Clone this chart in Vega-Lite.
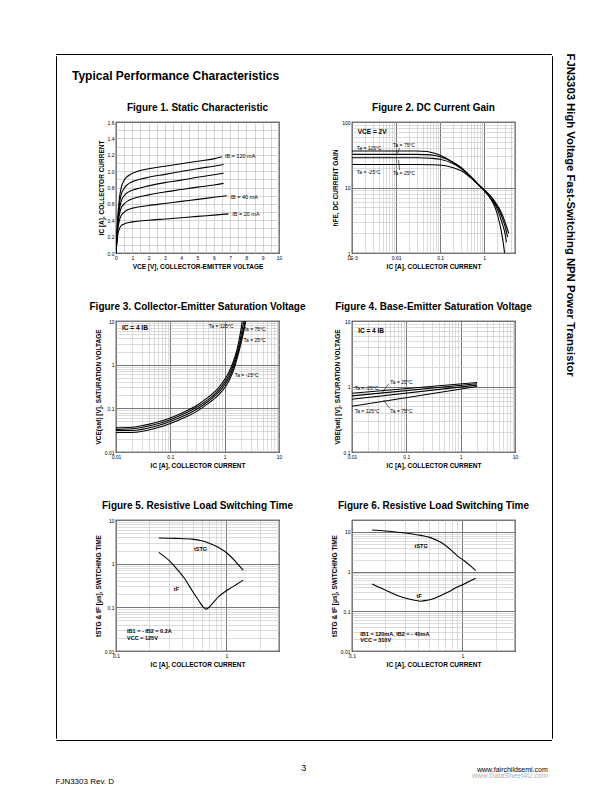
{
 "$schema": "https://vega.github.io/schema/vega-lite/v6.json",
 "padding": {"left": 55, "top": 53, "right": 0, "bottom": 0},
 "background": "white",
 "config": {
  "font": "Liberation Sans",
  "view": {"stroke": "black", "strokeWidth": 1.2},
  "axis": {"labelFont": "Liberation Sans", "labelFontSize": 5, "labelColor": "black", "titleFont": "Liberation Sans", "titleFontSize": 6.5, "titleFontWeight": "bold", "titleColor": "black", "domain": false, "ticks": false, "labelPadding": 2, "titlePadding": 3, "labelOverlap": false, "labelFlush": false, "labelBound": false, "gridColor": "#b8b8b8", "gridWidth": 0.6},
  "title": {"font": "Liberation Sans", "fontSize": 10, "fontWeight": "bold", "color": "black", "offset": 7},
  "text": {"font": "Liberation Sans", "fontSize": 5.5, "color": "black"},
  "line": {"color": "black", "strokeWidth": 1},
  "rule": {"color": "black", "strokeWidth": 0.6}
 },
 "datasets": {
  "f1": [
   {"s":"120","x":0,"y":0},{"s":"120","x":0.05,"y":0.2},{"s":"120","x":0.1,"y":0.4},{"s":"120","x":0.2,"y":0.65},{"s":"120","x":0.3,"y":0.78},{"s":"120","x":0.5,"y":0.89},{"s":"120","x":0.8,"y":0.95},{"s":"120","x":1.2,"y":0.99},{"s":"120","x":2,"y":1.03},{"s":"120","x":3,"y":1.06},{"s":"120","x":4,"y":1.09},{"s":"120","x":5,"y":1.12},{"s":"120","x":6,"y":1.15},{"s":"120","x":6.5,"y":1.175},
   {"s":"100","x":0,"y":0},{"s":"100","x":0.05,"y":0.19},{"s":"100","x":0.1,"y":0.37},{"s":"100","x":0.2,"y":0.58},{"s":"100","x":0.3,"y":0.7},{"s":"100","x":0.5,"y":0.79},{"s":"100","x":0.8,"y":0.85},{"s":"100","x":1.2,"y":0.885},{"s":"100","x":2,"y":0.925},{"s":"100","x":3,"y":0.96},{"s":"100","x":4,"y":0.995},{"s":"100","x":5,"y":1.03},{"s":"100","x":6,"y":1.06},{"s":"100","x":6.6,"y":1.08},
   {"s":"80","x":0,"y":0},{"s":"80","x":0.05,"y":0.18},{"s":"80","x":0.1,"y":0.34},{"s":"80","x":0.2,"y":0.52},{"s":"80","x":0.3,"y":0.62},{"s":"80","x":0.5,"y":0.7},{"s":"80","x":0.8,"y":0.75},{"s":"80","x":1.2,"y":0.78},{"s":"80","x":2,"y":0.82},{"s":"80","x":3,"y":0.86},{"s":"80","x":4,"y":0.89},{"s":"80","x":5,"y":0.925},{"s":"80","x":6,"y":0.955},{"s":"80","x":6.6,"y":0.975},
   {"s":"60","x":0,"y":0},{"s":"60","x":0.05,"y":0.17},{"s":"60","x":0.1,"y":0.31},{"s":"60","x":0.2,"y":0.46},{"s":"60","x":0.3,"y":0.54},{"s":"60","x":0.5,"y":0.6},{"s":"60","x":0.8,"y":0.645},{"s":"60","x":1.2,"y":0.675},{"s":"60","x":2,"y":0.71},{"s":"60","x":3,"y":0.745},{"s":"60","x":4,"y":0.775},{"s":"60","x":5,"y":0.805},{"s":"60","x":6,"y":0.83},{"s":"60","x":6.6,"y":0.85},
   {"s":"40","x":0,"y":0},{"s":"40","x":0.05,"y":0.15},{"s":"40","x":0.1,"y":0.27},{"s":"40","x":0.2,"y":0.39},{"s":"40","x":0.3,"y":0.45},{"s":"40","x":0.5,"y":0.5},{"s":"40","x":0.8,"y":0.535},{"s":"40","x":1.2,"y":0.555},{"s":"40","x":2,"y":0.58},{"s":"40","x":3,"y":0.605},{"s":"40","x":4,"y":0.63},{"s":"40","x":5,"y":0.655},{"s":"40","x":6,"y":0.68},{"s":"40","x":6.8,"y":0.7},
   {"s":"20","x":0,"y":0},{"s":"20","x":0.05,"y":0.12},{"s":"20","x":0.1,"y":0.21},{"s":"20","x":0.2,"y":0.29},{"s":"20","x":0.3,"y":0.33},{"s":"20","x":0.5,"y":0.355},{"s":"20","x":0.8,"y":0.372},{"s":"20","x":1.2,"y":0.385},{"s":"20","x":2,"y":0.4},{"s":"20","x":3,"y":0.415},{"s":"20","x":4,"y":0.43},{"s":"20","x":5,"y":0.447},{"s":"20","x":6,"y":0.463},{"s":"20","x":6.9,"y":0.478}
  ],
  "f1t": [
   {"t":"IB = 120 mA","x":6.68,"y":1.187},
   {"t":"IB = 40 mA","x":7.03,"y":0.69},
   {"t":"IB = 20 mA","x":7.13,"y":0.474}
  ],
  "f2": [
   {"s":"125","x":0.001,"y":36},{"s":"125","x":0.01,"y":36},{"s":"125","x":0.03,"y":36},{"s":"125","x":0.05,"y":35.5},{"s":"125","x":0.1,"y":31},{"s":"125","x":0.2,"y":24},{"s":"125","x":0.3,"y":20},{"s":"125","x":0.5,"y":14.5},{"s":"125","x":0.8,"y":10.5},{"s":"125","x":1,"y":9},{"s":"125","x":1.5,"y":6.2},{"s":"125","x":1.8,"y":4.8},{"s":"125","x":2.2,"y":3.0},{"s":"125","x":2.6,"y":1.7},{"s":"125","x":2.9,"y":1.0},
   {"s":"75","x":0.001,"y":32},{"s":"75","x":0.01,"y":32},{"s":"75","x":0.03,"y":32},{"s":"75","x":0.06,"y":31.5},{"s":"75","x":0.1,"y":29.5},{"s":"75","x":0.2,"y":24},{"s":"75","x":0.3,"y":20},{"s":"75","x":0.5,"y":14.5},{"s":"75","x":0.8,"y":10.5},{"s":"75","x":1,"y":9},{"s":"75","x":1.5,"y":6.5},{"s":"75","x":2,"y":4.6},{"s":"75","x":2.5,"y":3.0},{"s":"75","x":3.0,"y":1.9},{"s":"75","x":3.2,"y":1.45},
   {"s":"25","x":0.001,"y":28.5},{"s":"25","x":0.01,"y":28.5},{"s":"25","x":0.03,"y":28.5},{"s":"25","x":0.06,"y":28},{"s":"25","x":0.1,"y":27},{"s":"25","x":0.2,"y":23},{"s":"25","x":0.3,"y":19.5},{"s":"25","x":0.5,"y":14.5},{"s":"25","x":0.8,"y":10.5},{"s":"25","x":1,"y":9.2},{"s":"25","x":1.5,"y":6.8},{"s":"25","x":2,"y":5.0},{"s":"25","x":2.5,"y":3.6},{"s":"25","x":3.0,"y":2.5},{"s":"25","x":3.4,"y":1.75},
   {"s":"-25","x":0.001,"y":22.5},{"s":"-25","x":0.01,"y":22.5},{"s":"-25","x":0.03,"y":22.5},{"s":"-25","x":0.06,"y":22.3},{"s":"-25","x":0.1,"y":22},{"s":"-25","x":0.2,"y":20},{"s":"-25","x":0.3,"y":18},{"s":"-25","x":0.5,"y":14},{"s":"-25","x":0.8,"y":10.5},{"s":"-25","x":1,"y":9.3},{"s":"-25","x":1.5,"y":7.0},{"s":"-25","x":2,"y":5.3},{"s":"-25","x":2.5,"y":4.0},{"s":"-25","x":3.0,"y":2.9},{"s":"-25","x":3.6,"y":2.0}
  ],
  "f2t": [
   {"t":"Ta = 125°C","x":0.00128,"y":40.7},
   {"t":"Ta = 75°C","x":0.00848,"y":44.3},
   {"t":"Ta = -25°C","x":0.00128,"y":17.0},
   {"t":"Ta = 25°C","x":0.00848,"y":16.4}
  ],
  "f2r": [
   {"x":0.01205,"y":40.3,"x2":0.01064,"y2":33},
   {"x":0.01205,"y":18.5,"x2":0.0114,"y2":26.2}
  ],
  "f2v": [{"t":"VCE = 2V","x":0.00135,"y":70.5}],
  "f3": [
   {"s":"125","x":0.01,"y":0.036},{"s":"125","x":0.02,"y":0.037},{"s":"125","x":0.05,"y":0.046},{"s":"125","x":0.1,"y":0.06},{"s":"125","x":0.2,"y":0.088},{"s":"125","x":0.3,"y":0.115},{"s":"125","x":0.5,"y":0.18},{"s":"125","x":0.7,"y":0.26},{"s":"125","x":0.9,"y":0.38},{"s":"125","x":1.1,"y":0.55},{"s":"125","x":1.3,"y":0.85},{"s":"125","x":1.5,"y":1.35},{"s":"125","x":1.7,"y":2.3},{"s":"125","x":1.85,"y":3.8},{"s":"125","x":2.0,"y":6.5},{"s":"125","x":2.1,"y":10},
   {"s":"75","x":0.01,"y":0.033},{"s":"75","x":0.02,"y":0.034},{"s":"75","x":0.05,"y":0.042},{"s":"75","x":0.1,"y":0.055},{"s":"75","x":0.2,"y":0.08},{"s":"75","x":0.3,"y":0.104},{"s":"75","x":0.5,"y":0.16},{"s":"75","x":0.7,"y":0.23},{"s":"75","x":0.9,"y":0.33},{"s":"75","x":1.1,"y":0.47},{"s":"75","x":1.3,"y":0.72},{"s":"75","x":1.5,"y":1.15},{"s":"75","x":1.7,"y":1.95},{"s":"75","x":1.9,"y":3.3},{"s":"75","x":2.05,"y":5.5},{"s":"75","x":2.2,"y":8.5},{"s":"75","x":2.28,"y":10},
   {"s":"25","x":0.01,"y":0.031},{"s":"25","x":0.02,"y":0.031},{"s":"25","x":0.05,"y":0.038},{"s":"25","x":0.1,"y":0.05},{"s":"25","x":0.2,"y":0.072},{"s":"25","x":0.3,"y":0.094},{"s":"25","x":0.5,"y":0.145},{"s":"25","x":0.7,"y":0.205},{"s":"25","x":0.9,"y":0.29},{"s":"25","x":1.1,"y":0.41},{"s":"25","x":1.3,"y":0.62},{"s":"25","x":1.5,"y":0.98},{"s":"25","x":1.7,"y":1.65},{"s":"25","x":1.9,"y":2.8},{"s":"25","x":2.1,"y":4.8},{"s":"25","x":2.3,"y":8},{"s":"25","x":2.38,"y":10},
   {"s":"-25","x":0.01,"y":0.028},{"s":"-25","x":0.02,"y":0.028},{"s":"-25","x":0.05,"y":0.034},{"s":"-25","x":0.1,"y":0.045},{"s":"-25","x":0.2,"y":0.065},{"s":"-25","x":0.3,"y":0.084},{"s":"-25","x":0.5,"y":0.13},{"s":"-25","x":0.7,"y":0.18},{"s":"-25","x":0.9,"y":0.25},{"s":"-25","x":1.1,"y":0.35},{"s":"-25","x":1.3,"y":0.53},{"s":"-25","x":1.5,"y":0.83},{"s":"-25","x":1.7,"y":1.4},{"s":"-25","x":1.9,"y":2.4},{"s":"-25","x":2.1,"y":4.0},{"s":"-25","x":2.3,"y":6.8},{"s":"-25","x":2.45,"y":10}
  ],
  "f3t": [
   {"t":"Ta = 125°C","x":0.51,"y":7.7},
   {"t":"Ta = 75°C","x":2.22,"y":6.44},
   {"t":"Ta = 25°C","x":2.22,"y":3.67},
   {"t":"Ta = -25°C","x":1.53,"y":0.576}
  ],
  "f3v": [{"t":"IC = 4 IB","x":0.0129,"y":6.8}],
  "f4": [
   {"s":"-25","x":0.01,"y":0.79},{"s":"-25","x":2,"y":1.15},
   {"s":"25","x":0.01,"y":0.72},{"s":"25","x":2,"y":1.1},
   {"s":"75","x":0.01,"y":0.64},{"s":"75","x":2,"y":1.05},
   {"s":"125","x":0.01,"y":0.5},{"s":"125","x":2,"y":1.0}
  ],
  "f4t": [
   {"t":"Ta = -25°C","x":0.0112,"y":0.943},
   {"t":"Ta = 25°C","x":0.0508,"y":1.19},
   {"t":"Ta = 75°C","x":0.0508,"y":0.427},
   {"t":"Ta = 125°C","x":0.0112,"y":0.427}
  ],
  "f4r": [
   {"x":0.0473,"y":1.10,"x2":0.0355,"y2":0.79},
   {"x":0.0495,"y":0.464,"x2":0.038,"y2":0.623}
  ],
  "f4v": [{"t":"IC = 4 IB","x":0.013,"y":7.0}],
  "f5": [
   {"s":"tstg","x":0.244,"y":3.86},{"s":"tstg","x":0.35,"y":3.8},{"s":"tstg","x":0.49,"y":3.65},{"s":"tstg","x":0.6,"y":3.35},{"s":"tstg","x":0.7,"y":2.95},{"s":"tstg","x":0.85,"y":2.35},{"s":"tstg","x":1.0,"y":1.8},{"s":"tstg","x":1.2,"y":1.15},{"s":"tstg","x":1.42,"y":0.71},
   {"s":"tf","x":0.244,"y":1.81},{"s":"tf","x":0.3,"y":1.2},{"s":"tf","x":0.346,"y":0.82},{"s":"tf","x":0.42,"y":0.45},{"s":"tf","x":0.49,"y":0.24},{"s":"tf","x":0.565,"y":0.14},{"s":"tf","x":0.62,"y":0.1},{"s":"tf","x":0.66,"y":0.091},{"s":"tf","x":0.72,"y":0.11},{"s":"tf","x":0.86,"y":0.18},{"s":"tf","x":1.0,"y":0.24},{"s":"tf","x":1.13,"y":0.29},{"s":"tf","x":1.42,"y":0.42}
  ],
  "f5t": [
   {"t":"tSTG","x":0.508,"y":2.16},
   {"t":"tF","x":0.334,"y":0.26},
   {"t":"IB1 = - IB2 = 0.2A","x":0.126,"y":0.0288},
   {"t":"VCC = 125V","x":0.126,"y":0.0203}
  ],
  "f6": [
   {"s":"tstg","x":0.152,"y":11.2},{"s":"tstg","x":0.2,"y":10.6},{"s":"tstg","x":0.316,"y":9.3},{"s":"tstg","x":0.42,"y":8.2},{"s":"tstg","x":0.515,"y":7.2},{"s":"tstg","x":0.6,"y":6.0},{"s":"tstg","x":0.68,"y":4.9},{"s":"tstg","x":0.8,"y":3.4},{"s":"tstg","x":0.9,"y":2.5},{"s":"tstg","x":1.04,"y":1.88},{"s":"tstg","x":1.2,"y":1.35},{"s":"tstg","x":1.32,"y":1.06},
   {"s":"tf","x":0.152,"y":0.49},{"s":"tf","x":0.18,"y":0.39},{"s":"tf","x":0.223,"y":0.3},{"s":"tf","x":0.27,"y":0.24},{"s":"tf","x":0.316,"y":0.21},{"s":"tf","x":0.37,"y":0.19},{"s":"tf","x":0.418,"y":0.18},{"s":"tf","x":0.48,"y":0.19},{"s":"tf","x":0.553,"y":0.21},{"s":"tf","x":0.66,"y":0.26},{"s":"tf","x":0.784,"y":0.33},{"s":"tf","x":0.9,"y":0.41},{"s":"tf","x":1.04,"y":0.49},{"s":"tf","x":1.32,"y":0.68}
  ],
  "f6t": [
   {"t":"tSTG","x":0.369,"y":4.47},
   {"t":"tF","x":0.385,"y":0.242},
   {"t":"IB1 = 120mA, IB2 = - 40mA","x":0.119,"y":0.0261},
   {"t":"VCC = 310V","x":0.119,"y":0.0185}
  ]
 },
 "title": {"text": "FJN3303 Rev. D", "orient": "bottom", "anchor": "start", "fontSize": 8, "fontWeight": "normal", "offset": -1},
 "vconcat": [{
  "title": {"text": "www.fairchildsemi.com", "subtitle": "www.DataSheet4U.com", "orient": "bottom", "anchor": "end", "fontSize": 7, "fontWeight": "normal", "subtitleFont": "Liberation Sans", "subtitleFontSize": 7.2, "subtitleColor": "#b0b0b0", "subtitlePadding": -1, "offset": -7, "dx": -28},
  "vconcat": [{
   "title": {"text": "3", "orient": "bottom", "anchor": "middle", "fontSize": 9, "fontWeight": "normal", "offset": 23, "dx": -12},
   "vconcat": [{
    "title": {"text": "FJN3303  High Voltage Fast-Switching NPN Power Transistor", "orient": "right", "anchor": "start", "offset": 12, "fontSize": 11.3, "fontWeight": "bold"},
    "spacing": 0,
    "vconcat": [
     {"width": 495, "height": 0.01, "view": {"stroke": "black", "strokeWidth": 1}, "data": {"values": []}, "mark": {"type": "text"}, "encoding": {"text": {"value": ""}}},
     {
      "spacing": 15,
      "hconcat": [
       {"width": 0.01, "height": 682, "view": {"stroke": "black", "strokeWidth": 1}, "data": {"values": []}, "mark": {"type": "text"}, "encoding": {"text": {"value": ""}}},
       {
        "spacing": 18,
        "hconcat": [
         {
          "spacing": 20,
          "vconcat": [
           {
            "width": 10, "height": 11,
            "view": {"stroke": null},
            "title": {"text": "Typical Performance Characteristics", "orient": "bottom", "anchor": "start", "frame": "group", "offset": 4, "dx": -44, "fontSize": 12},
            "data": {"values": []},
            "mark": {"type": "text"},
            "encoding": {"text": {"value": ""}}
           },
           {
            "spacing": 30,
            "vconcat": [
             {
              "spacing": 73, "bounds": "flush",
              "hconcat": [
               {
                "width": 163, "height": 131,
                "title": {"text": "Figure 1. Static Characteristic"},
                "encoding": {
                 "x": {"field": "x", "type": "quantitative", "scale": {"domain": [0, 10], "nice": false, "zero": false},
                  "axis": {"title": "VCE [V], COLLECTOR-EMITTER VOLTAGE", "values": [0,0.5,1,1.5,2,2.5,3,3.5,4,4.5,5,5.5,6,6.5,7,7.5,8,8.5,9,9.5,10], "labelExpr": "datum.value % 1 == 0 ? format(datum.value, 'd') : ''"}},
                 "y": {"field": "y", "type": "quantitative", "scale": {"domain": [0, 1.6], "nice": false},
                  "axis": {"title": "IC [A], COLLECTOR CURRENT", "values": [0,0.1,0.2,0.3,0.4,0.5,0.6,0.7,0.8,0.9,1,1.1,1.2,1.3,1.4,1.5,1.6], "labelExpr": "round(datum.value*10) % 2 == 0 ? format(datum.value, '.1f') : ''"}}
                },
                "layer": [
                 {"data": {"name": "f1"}, "mark": {"type": "line", "interpolate": "monotone", "clip": true, "strokeWidth": 1.1}, "encoding": {"detail": {"field": "s", "type": "nominal"}}},
                 {"data": {"name": "f1t"}, "mark": {"type": "text", "align": "left", "baseline": "middle"}, "encoding": {"text": {"field": "t", "type": "nominal"}}}
                ]
               },
               {
                "width": 163, "height": 131,
                "title": {"text": "Figure 2. DC Current Gain"},
                "encoding": {
                 "x": {"field": "x", "type": "quantitative", "scale": {"type": "log", "domain": [0.001, 5], "nice": false},
                  "axis": {"title": "IC [A], COLLECTOR CURRENT", "values": [0.001,0.002,0.003,0.004,0.005,0.006,0.007,0.008,0.009,0.01,0.02,0.03,0.04,0.05,0.06,0.07,0.08,0.09,0.1,0.2,0.3,0.4,0.5,0.6,0.7,0.8,0.9,1,2,3,4,5],
                   "labelExpr": "datum.value == 0.001 ? '1E-3' : (indexof([0.01,0.1,1], datum.value) >= 0 ? format(datum.value, '~g') : '')",
                   "gridColor": {"condition": {"test": "indexof([0.001,0.01,0.1,1,10,100], datum.value) >= 0", "value": "#777777"}, "value": "#c4c4c4"},
                   "gridWidth": {"condition": {"test": "indexof([0.001,0.01,0.1,1,10,100], datum.value) >= 0", "value": 1}, "value": 0.6}}},
                 "y": {"field": "y", "type": "quantitative", "scale": {"type": "log", "domain": [1, 100], "nice": false},
                  "axis": {"title": "hFE, DC CURRENT GAIN", "values": [1,2,3,4,5,6,7,8,9,10,20,30,40,50,60,70,80,90,100],
                   "labelExpr": "indexof([1,10,100], datum.value) >= 0 ? format(datum.value, '~g') : ''",
                   "gridColor": {"condition": {"test": "indexof([1,10,100], datum.value) >= 0", "value": "#777777"}, "value": "#c4c4c4"},
                   "gridWidth": {"condition": {"test": "indexof([1,10,100], datum.value) >= 0", "value": 1}, "value": 0.6}}}
                },
                "layer": [
                 {"data": {"name": "f2"}, "mark": {"type": "line", "interpolate": "monotone", "clip": true, "strokeWidth": 1.1}, "encoding": {"detail": {"field": "s", "type": "nominal"}}},
                 {"data": {"name": "f2r"}, "mark": {"type": "rule"}, "encoding": {"x2": {"field": "x2"}, "y2": {"field": "y2"}}},
                 {"data": {"name": "f2t"}, "mark": {"type": "text", "align": "left", "baseline": "middle", "fontSize": 5}, "encoding": {"text": {"field": "t", "type": "nominal"}}},
                 {"data": {"name": "f2v"}, "mark": {"type": "text", "align": "left", "baseline": "middle", "fontSize": 6.5, "fontWeight": "bold"}, "encoding": {"text": {"field": "t", "type": "nominal"}}}
                ]
               }
              ]
             },
             {
              "spacing": 73, "bounds": "flush",
              "hconcat": [
               {
                "width": 163, "height": 131,
                "title": {"text": "Figure 3. Collector-Emitter Saturation Voltage"},
                "encoding": {
                 "x": {"field": "x", "type": "quantitative", "scale": {"type": "log", "domain": [0.01, 10], "nice": false},
                  "axis": {"title": "IC [A], COLLECTOR CURRENT", "values": [0.01,0.02,0.03,0.04,0.05,0.06,0.07,0.08,0.09,0.1,0.2,0.3,0.4,0.5,0.6,0.7,0.8,0.9,1,2,3,4,5,6,7,8,9,10],
                   "labelExpr": "indexof([0.01,0.1,1,10], datum.value) >= 0 ? format(datum.value, '~g') : ''",
                   "gridColor": {"condition": {"test": "indexof([0.01,0.1,1,10], datum.value) >= 0", "value": "#777777"}, "value": "#c4c4c4"},
                   "gridWidth": {"condition": {"test": "indexof([0.01,0.1,1,10], datum.value) >= 0", "value": 1}, "value": 0.6}}},
                 "y": {"field": "y", "type": "quantitative", "scale": {"type": "log", "domain": [0.01, 10], "nice": false},
                  "axis": {"title": "VCE(sat) [V], SATURATION VOLTAGE", "values": [0.01,0.02,0.03,0.04,0.05,0.06,0.07,0.08,0.09,0.1,0.2,0.3,0.4,0.5,0.6,0.7,0.8,0.9,1,2,3,4,5,6,7,8,9,10],
                   "labelExpr": "indexof([0.01,0.1,1,10], datum.value) >= 0 ? format(datum.value, '~g') : ''",
                   "gridColor": {"condition": {"test": "indexof([0.01,0.1,1,10], datum.value) >= 0", "value": "#777777"}, "value": "#c4c4c4"},
                   "gridWidth": {"condition": {"test": "indexof([0.01,0.1,1,10], datum.value) >= 0", "value": 1}, "value": 0.6}}}
                },
                "layer": [
                 {"data": {"name": "f3"}, "mark": {"type": "line", "interpolate": "monotone", "clip": true, "strokeWidth": 1.1}, "encoding": {"detail": {"field": "s", "type": "nominal"}}},
                 {"data": {"name": "f3t"}, "mark": {"type": "text", "align": "left", "baseline": "middle", "fontSize": 5}, "encoding": {"text": {"field": "t", "type": "nominal"}}},
                 {"data": {"name": "f3v"}, "mark": {"type": "text", "align": "left", "baseline": "middle", "fontSize": 6.5, "fontWeight": "bold"}, "encoding": {"text": {"field": "t", "type": "nominal"}}}
                ]
               },
               {
                "width": 163, "height": 131,
                "title": {"text": "Figure 4. Base-Emitter Saturation Voltage"},
                "encoding": {
                 "x": {"field": "x", "type": "quantitative", "scale": {"type": "log", "domain": [0.01, 10], "nice": false},
                  "axis": {"title": "IC [A], COLLECTOR CURRENT", "values": [0.01,0.02,0.03,0.04,0.05,0.06,0.07,0.08,0.09,0.1,0.2,0.3,0.4,0.5,0.6,0.7,0.8,0.9,1,2,3,4,5,6,7,8,9,10],
                   "labelExpr": "indexof([0.01,0.1,1,10], datum.value) >= 0 ? format(datum.value, '~g') : ''",
                   "gridColor": {"condition": {"test": "indexof([0.01,0.1,1,10], datum.value) >= 0", "value": "#777777"}, "value": "#c4c4c4"},
                   "gridWidth": {"condition": {"test": "indexof([0.01,0.1,1,10], datum.value) >= 0", "value": 1}, "value": 0.6}}},
                 "y": {"field": "y", "type": "quantitative", "scale": {"type": "log", "domain": [0.1, 10], "nice": false},
                  "axis": {"title": "VBE(sat) [V], SATURATION VOLTAGE", "values": [0.1,0.2,0.3,0.4,0.5,0.6,0.7,0.8,0.9,1,2,3,4,5,6,7,8,9,10],
                   "labelExpr": "indexof([0.1,1,10], datum.value) >= 0 ? format(datum.value, '~g') : ''",
                   "gridColor": {"condition": {"test": "indexof([0.1,1,10], datum.value) >= 0", "value": "#777777"}, "value": "#c4c4c4"},
                   "gridWidth": {"condition": {"test": "indexof([0.1,1,10], datum.value) >= 0", "value": 1}, "value": 0.6}}}
                },
                "layer": [
                 {"data": {"name": "f4"}, "mark": {"type": "line", "clip": true, "strokeWidth": 1.1}, "encoding": {"detail": {"field": "s", "type": "nominal"}}},
                 {"data": {"name": "f4r"}, "mark": {"type": "rule"}, "encoding": {"x2": {"field": "x2"}, "y2": {"field": "y2"}}},
                 {"data": {"name": "f4t"}, "mark": {"type": "text", "align": "left", "baseline": "middle", "fontSize": 5}, "encoding": {"text": {"field": "t", "type": "nominal"}}},
                 {"data": {"name": "f4v"}, "mark": {"type": "text", "align": "left", "baseline": "middle", "fontSize": 6.5, "fontWeight": "bold"}, "encoding": {"text": {"field": "t", "type": "nominal"}}}
                ]
               }
              ]
             },
             {
              "spacing": 73, "bounds": "flush",
              "hconcat": [
               {
                "width": 163, "height": 131,
                "title": {"text": "Figure 5. Resistive Load Switching Time"},
                "encoding": {
                 "x": {"field": "x", "type": "quantitative", "scale": {"type": "log", "domain": [0.1, 3], "nice": false},
                  "axis": {"title": "IC [A], COLLECTOR CURRENT", "values": [0.1,0.2,0.3,0.4,0.5,0.6,0.7,0.8,0.9,1,2,3],
                   "labelExpr": "indexof([0.1,1], datum.value) >= 0 ? format(datum.value, '~g') : ''",
                   "gridColor": {"condition": {"test": "indexof([0.1,1], datum.value) >= 0", "value": "#777777"}, "value": "#c4c4c4"},
                   "gridWidth": {"condition": {"test": "indexof([0.1,1], datum.value) >= 0", "value": 1}, "value": 0.6}}},
                 "y": {"field": "y", "type": "quantitative", "scale": {"type": "log", "domain": [0.01, 10], "nice": false},
                  "axis": {"title": "tSTG & tF [μs], SWITCHING TIME", "values": [0.01,0.02,0.03,0.04,0.05,0.06,0.07,0.08,0.09,0.1,0.2,0.3,0.4,0.5,0.6,0.7,0.8,0.9,1,2,3,4,5,6,7,8,9,10],
                   "labelExpr": "indexof([0.01,0.1,1,10], datum.value) >= 0 ? format(datum.value, '~g') : ''",
                   "gridColor": {"condition": {"test": "indexof([0.01,0.1,1,10], datum.value) >= 0", "value": "#777777"}, "value": "#c4c4c4"},
                   "gridWidth": {"condition": {"test": "indexof([0.01,0.1,1,10], datum.value) >= 0", "value": 1}, "value": 0.6}}}
                },
                "layer": [
                 {"data": {"name": "f5"}, "mark": {"type": "line", "interpolate": "monotone", "clip": true, "strokeWidth": 1.1}, "encoding": {"detail": {"field": "s", "type": "nominal"}}},
                 {"data": {"name": "f5t"}, "mark": {"type": "text", "align": "left", "baseline": "middle", "fontSize": 5.5, "fontWeight": "bold"}, "encoding": {"text": {"field": "t", "type": "nominal"}}}
                ]
               },
               {
                "width": 163, "height": 131,
                "title": {"text": "Figure 6. Resistive Load Switching Time"},
                "encoding": {
                 "x": {"field": "x", "type": "quantitative", "scale": {"type": "log", "domain": [0.1, 3], "nice": false},
                  "axis": {"title": "IC [A], COLLECTOR CURRENT", "values": [0.1,0.2,0.3,0.4,0.5,0.6,0.7,0.8,0.9,1,2,3],
                   "labelExpr": "indexof([0.1,1], datum.value) >= 0 ? format(datum.value, '~g') : ''",
                   "gridColor": {"condition": {"test": "indexof([0.1,1], datum.value) >= 0", "value": "#777777"}, "value": "#c4c4c4"},
                   "gridWidth": {"condition": {"test": "indexof([0.1,1], datum.value) >= 0", "value": 1}, "value": 0.6}}},
                 "y": {"field": "y", "type": "quantitative", "scale": {"type": "log", "domain": [0.01, 20], "nice": false},
                  "axis": {"title": "tSTG & tF [μs], SWITCHING TIME", "values": [0.01,0.02,0.03,0.04,0.05,0.06,0.07,0.08,0.09,0.1,0.2,0.3,0.4,0.5,0.6,0.7,0.8,0.9,1,2,3,4,5,6,7,8,9,10,20],
                   "labelExpr": "indexof([0.01,0.1,1,10], datum.value) >= 0 ? format(datum.value, '~g') : ''",
                   "gridColor": {"condition": {"test": "indexof([0.01,0.1,1,10], datum.value) >= 0", "value": "#777777"}, "value": "#c4c4c4"},
                   "gridWidth": {"condition": {"test": "indexof([0.01,0.1,1,10], datum.value) >= 0", "value": 1}, "value": 0.6}}}
                },
                "layer": [
                 {"data": {"name": "f6"}, "mark": {"type": "line", "interpolate": "monotone", "clip": true, "strokeWidth": 1.1}, "encoding": {"detail": {"field": "s", "type": "nominal"}}},
                 {"data": {"name": "f6t"}, "mark": {"type": "text", "align": "left", "baseline": "middle", "fontSize": 5.5, "fontWeight": "bold"}, "encoding": {"text": {"field": "t", "type": "nominal"}}}
                ]
               }
              ]
             }
            ]
           }
          ]
         },
         {"width": 0.01, "height": 682, "view": {"stroke": "black", "strokeWidth": 1}, "data": {"values": []}, "mark": {"type": "text"}, "encoding": {"text": {"value": ""}}}
        ]
       }
      ]
     },
     {"width": 495, "height": 0.01, "view": {"stroke": "black", "strokeWidth": 1}, "data": {"values": []}, "mark": {"type": "text"}, "encoding": {"text": {"value": ""}}}
    ]
   }]
  }]
 }]
}
